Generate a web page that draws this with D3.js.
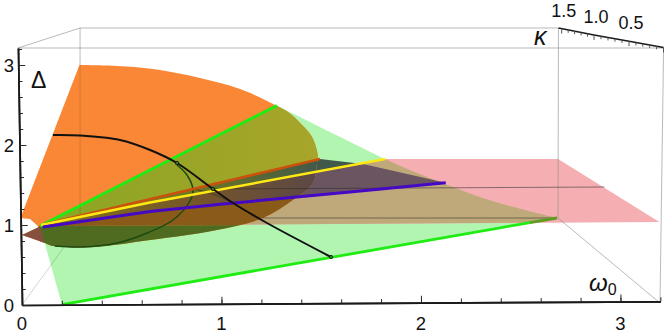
<!DOCTYPE html>
<html>
  <head>
    <title>gap surfaces</title>
    <meta charset="utf-8" />
    <script src="https://d3js.org/d3.v7.min.js"></script>
    <style>
      html, body { margin: 0; padding: 0; background: #fff; }
      svg { display: block; }
      text { font-family: "Liberation Sans", sans-serif; fill: #111; }
    </style>
  </head>
  <body>
    <script>
      // all pairs are [omega0, Delta]
      const blobArc = [[0.288,3],[0.476,2.988],[0.657,2.95],[0.892,2.838],[1.093,2.7],[1.278,2.488],
        [1.333,2.413],[1.404,2.25],[1.454,2.1],[1.484,1.85],[1.479,1.775],[1.459,1.525],[1.358,1.3125],[1.208,1.0875],
        [0.977,0.9375],[0.642,0.8125],[0.356,0.725],[0.155,0.7375],[0.115,0.775]];
      const blobTail = [[0,0.875],[0.085,0.975],[0.04,1.075],[-0.008,1.0875]];
      const greenEdge = [[1.278,2.494],[1.82,1.825],[1.92,1.7125],[2.341,1.3125],[2.682,1.0875]];
      const tanEdge = [[1.82,1.825],[1.92,1.7125],[2.341,1.3125],[2.682,1.0875]];
      const pinkSheet = [[0.09,0.9875],[1.82,1.825],[2.687,1.825],[3.195,1.0375]];
      const greyWedge = [[0.095,1],[1.494,1.825],[1.709,1.7625]];

      const greenTop = [[0.09,0.9875],[1.278,2.494]];
      const greenBottom = [[0.2,0.006],[2.546,1.03]];
      const greenBottomShaded = [[2.546,1.03],[2.682,1.0875]];
      const redLine = [[0.115,1.0125],[1.494,1.825]];
      const yellowLine = [[0.095,1],[0.642,1.281],[1.82,1.825]];
      const purpleLine = [[0.105,0.975],[0.642,1.17],[1.008,1.2625],[1.644,1.4125],[2.124,1.529]];

      // pieces that only show inside the blob
      const oliveBand = [[0.09,0.9875],[1.278,2.494],[1.594,2.5],[1.594,1.884],[0.115,1.0125]];
      const darkOliveBand = [[0.115,1.0125],[1.594,1.884],[1.594,1.7125],[0.642,1.281],[0.095,1]];
      const midBandTop = [[0.095,1],[0.642,1.281],[1.594,1.719],[1.644,1.4125]];
      const brownBandLow = [[1.644,1.0075],[0.09,0.9875]];
      const lowBand = [[0.09,0.9875],[1.644,1.0075],[1.644,0.5625],[0.09,0.5625]];
      const tailBand = [[-0.06,1],[0.09,0.9875],[0.2,0.006],[-0.06,0.006]];

      const blackCurve = [[0.155,2.125],[0.291,2.119],[0.491,2.063],[0.642,1.938],[0.777,1.775],[0.957,1.45],[1.058,1.275],[1.228,1.025],[1.549,0.6]];
      const darkArc = [[0.777,1.75],[0.827,1.625],[0.857,1.4375],[0.842,1.3],[0.757,1.0625],[0.627,0.9],[0.476,0.775],[0.306,0.725],[0.165,0.7375]];
      const shortArc = [[0.857,1.45],[0.942,1.4],[1.058,1.275]];
      const crossings = [[0.777,1.775],[0.957,1.45],[1.549,0.6]];

      const boxLines = [
        [[-0.02,3.2125],[0.291,3.4625]],
        [[0.291,3.4625],[2.689,3.4625]],
        [[-0.02,3.2125],[3.216,3.2125]],
        [[0.291,3.4625],[0.291,3]],
        [[2.689,3.4625],[2.687,1.0875]],
        [[3.216,3.2125],[3.198,0.025]],
        [[2.687,1.0875],[3.198,0.025]]
      ];
      const hiddenLines = [
        [[0.291,3],[0.291,1]],
        [[0,0],[0.291,1]]
      ];
      const sheetLines = [
        [[0.957,1.45],[2.92,1.475]],
        [[1.208,1.0875],[2.682,1.0875]]
      ];

      const xTickLabels = [0, 1, 2, 3];
      const yTickLabels = [0, 1, 2, 3];
      const kappaTickLabels = [["1.5", 1.5], ["1.0", 1.0], ["0.5", 0.5]];

      const width = 664;
      const height = 336;

      const svg = d3.select("body").append("svg").attr("width", width).attr("height", height);

      const x = d3.scaleLinear().domain([0, 3.2]).range([22, 660.4]);
      const y = d3.scaleLinear().domain([0, 3.2125]).range([305, 48]);
      const kx = d3.scaleLinear().domain([0, 0.5, 1, 1.55]).range([663.5, 629, 594, 558.5]);
      const ky = d3.scaleLinear().domain([0, 1.55]).range([47.5, 28]);

      const line = d3.line().x((d) => x(d[0])).y((d) => y(d[1]));
      const smooth = d3.line().x((d) => x(d[0])).y((d) => y(d[1])).curve(d3.curveCatmullRom);
      const poly = (pts) => line(pts) + "Z";
      // a smooth stretch followed by straight corners
      const smoothThen = (arc, corners) => smooth(arc) + "L" + line(corners).slice(1) + "Z";

      const blobPath = smoothThen(blobArc, blobTail);
      const greenPath = line([greenTop[0]]) + "L" + smooth(greenEdge).slice(1) + "L" + line([greenBottom[0]]).slice(1) + "Z";
      const tanPath = line([greenTop[0]]) + "L" + smooth(tanEdge).slice(1) + "L" + line([greenBottom[1]]).slice(1) + "Z";
      const purplePath = line([yellowLine[0], yellowLine[1], greyWedge[2], purpleLine[4]]) + "L" + line(purpleLine.slice(0, 4).reverse()).slice(1) + "Z";

      const defs = svg.append("defs");
      defs.append("clipPath").attr("id", "blob-clip").append("path").attr("d", blobPath);

      function gradient(id, stops) {
        const g = defs.append("linearGradient").attr("id", id).attr("gradientUnits", "userSpaceOnUse")
          .attr("x1", x(0.3)).attr("x2", x(1.5)).attr("y1", 0).attr("y2", 0);
        stops.forEach((s) => g.append("stop").attr("offset", s[0]).attr("stop-color", s[1]));
      }
      gradient("dark-olive", [[0, "#7d8a1c"], [0.5, "#6b7424"], [1, "#41594a"]]);
      gradient("mid", [[0, "#7f6a1c"], [0.5, "#75552a"], [1, "#5b4848"]]);
      gradient("olive", [[0, "#8fa524"], [1, "#a8a52a"]]);

      function fillPath(parent, d, color) {
        parent.append("path").attr("d", d).attr("fill", color);
      }

      // sheets behind the blob
      fillPath(svg, greenPath, "#b1f5b1");
      fillPath(svg, poly(pinkSheet), "#f5aeb2");
      fillPath(svg, tanPath, "#bfa97b");
      fillPath(svg, poly(greyWedge), "#41594a");
      fillPath(svg, purplePath, "#6a5560");

      // blob and the bands that cut it
      fillPath(svg, blobPath, "#f98736");
      const inside = svg.append("g").attr("clip-path", "url(#blob-clip)");
      fillPath(inside, poly(oliveBand), "url(#olive)");
      fillPath(inside, poly(darkOliveBand), "url(#dark-olive)");
      fillPath(inside, poly(midBandTop.concat(purpleLine.slice(0, 4).reverse())), "url(#mid)");
      fillPath(inside, poly(purpleLine.slice(0, 4).concat(brownBandLow)), "#8a5a18");
      fillPath(inside, poly(lowBand), "#4e6b1f");
      fillPath(inside, poly(tailBand), "#85503e");

      // box edges
      svg.selectAll(".box").data(boxLines).enter().append("path").attr("class", "box")
        .attr("d", line).attr("fill", "none").attr("stroke", "#8c8c8c").attr("stroke-opacity", 0.75).attr("stroke-width", 0.8);
      svg.selectAll(".hidden-edge").data(hiddenLines).enter().append("path").attr("class", "hidden-edge")
        .attr("d", line).attr("fill", "none").attr("stroke", "#5a4a40").attr("stroke-opacity", 0.3).attr("stroke-width", 0.8);
      svg.selectAll(".sheet-edge").data(sheetLines).enter().append("path").attr("class", "sheet-edge")
        .attr("d", line).attr("fill", "none").attr("stroke", "#2a2a2a").attr("stroke-opacity", 0.6).attr("stroke-width", 0.9);

      function stroke(pts, color, w, gen) {
        svg.append("path").attr("d", (gen || line)(pts)).attr("fill", "none")
          .attr("stroke", color).attr("stroke-width", w);
      }
      stroke(darkArc, "#1c4a10", 1.5, smooth);
      stroke(shortArc, "#4f4512", 1.2, smooth);
      stroke(greenTop, "#1eec12", 2.9);
      stroke(greenBottom, "#1eec12", 2.8);
      stroke(greenBottomShaded, "#5f9c22", 2.8);
      stroke(redLine, "#c9510c", 2.8);
      stroke(yellowLine, "#ffe814", 2.5);
      stroke(purpleLine, "#4508c4", 3);
      stroke(blackCurve, "#111", 2, smooth);

      svg.selectAll(".crossing").data(crossings).enter().append("circle").attr("class", "crossing")
        .attr("cx", (d) => x(d[0])).attr("cy", (d) => y(d[1])).attr("r", 1.7)
        .attr("fill", "#2f7a1c").attr("stroke", "#111").attr("stroke-width", 0.8);

      // axes, each tilted a little like the perspective box
      const bottomAxis = svg.append("g").attr("transform", "rotate(-0.33,22,305) translate(0,305)");
      bottomAxis.call(d3.axisTop(x).tickValues(d3.range(0, 3.21, 0.2)).tickSize(4).tickSizeOuter(0).tickFormat(""));
      bottomAxis.append("g").call(d3.axisTop(x).tickValues(xTickLabels).tickSize(7).tickSizeOuter(0).tickFormat(""));
      const leftAxis = svg.append("g").attr("transform", "rotate(-0.9,22,305) translate(22,0)");
      leftAxis.call(d3.axisRight(y).tickValues(d3.range(0, 3.21, 0.2)).tickSize(4).tickSizeOuter(0).tickFormat(""));
      leftAxis.append("g").call(d3.axisRight(y).tickValues(yTickLabels).tickSize(7).tickSizeOuter(0).tickFormat(""));
      svg.selectAll(".domain").attr("stroke", "#1a1a1a").attr("stroke-width", 1.7);
      svg.selectAll(".tick line").attr("stroke", "#2a2a2a").attr("stroke-width", 1);

      svg.append("path")
        .attr("d", d3.line()(kx.domain().map((k) => [kx(k), ky(k)])))
        .attr("stroke", "#1a1a1a").attr("stroke-width", 1.5).attr("fill", "none");
      svg.selectAll(".ktick").data(kx.ticks(15)).enter().append("line").attr("class", "ktick")
        .attr("x1", (d) => kx(d)).attr("x2", (d) => kx(d))
        .attr("y1", (d) => ky(d)).attr("y2", (d) => ky(d) + (Math.round(d * 10) % 5 === 0 ? 5 : 3))
        .attr("stroke", "#555").attr("stroke-width", 1);

      // tick labels
      svg.selectAll(".xlab").data(xTickLabels).enter().append("text").attr("class", "xlab")
        .attr("x", (d) => x(d)).attr("y", 330).attr("text-anchor", "middle").attr("font-size", 18.5).text((d) => d);
      svg.selectAll(".ylab").data(yTickLabels).enter().append("text").attr("class", "ylab")
        .attr("x", 14).attr("y", (d) => y(d) + 7).attr("text-anchor", "end").attr("font-size", 18.5).text((d) => d);
      svg.selectAll(".klab").data(kappaTickLabels).enter().append("text").attr("class", "klab")
        .attr("x", (d) => kx(d[1]) + 2).attr("y", (d) => ky(d[1]) - 12).attr("text-anchor", "middle").attr("font-size", 18).text((d) => d[0]);

      // axis titles
      svg.append("text").attr("x", 31).attr("y", 88).attr("font-size", 23).text("Δ");
      svg.append("text").attr("x", 534).attr("y", 45).attr("font-size", 25).attr("font-style", "italic").text("κ");
      const om = svg.append("text").attr("x", 589).attr("y", 291).attr("font-size", 24).attr("font-style", "italic");
      om.append("tspan").text("ω");
      om.append("tspan").attr("dy", 4).attr("font-size", 16).attr("font-style", "normal").text("0");
    </script>
  </body>
</html>
